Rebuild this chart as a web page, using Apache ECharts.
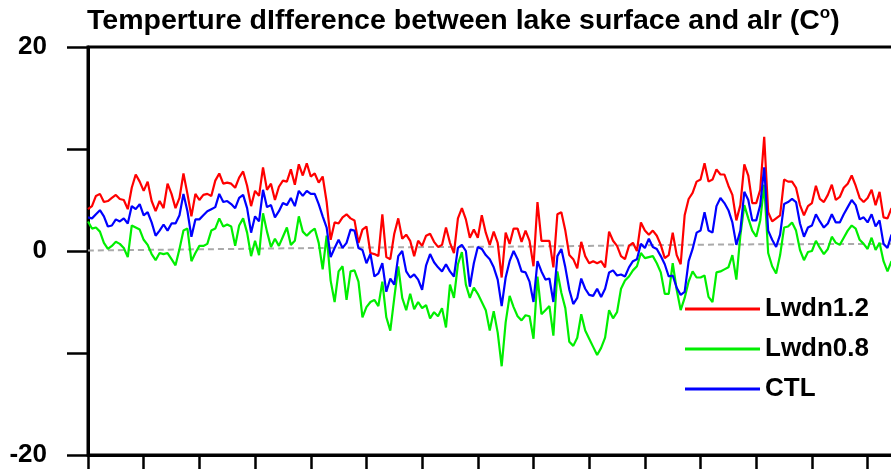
<!DOCTYPE html>
<html>
<head>
<meta charset="utf-8">
<script src="https://cdn.jsdelivr.net/npm/echarts@6/dist/echarts.min.js"></script>
<style>
  html, body { margin: 0; padding: 0; overflow: hidden; background: #fff; }
  #chart { width: 1000px; height: 520px; }
</style>
</head>
<body>
<div id="chart"></div>
<script>
// daily samples, one tick every 14 samples
var lwdn12 = [4.1,4.4,5.4,5.6,4.8,4.9,5.2,5.5,5.1,5.0, 4.1,6.2,7.5,6.8,5.9,6.8,4.9,3.9,4.9,4.2,
  6.6,5.6,4.2,5.2,7.6,5.6,3.4,5.6,5.0,5.5, 5.6,5.4,6.9,7.6,6.6,6.7,6.6,6.2,7.2,7.8,
  6.4,4.4,5.9,5.4,8.2,6.0,6.6,5.0,6.3,6.9, 6.8,8.0,6.5,8.5,7.4,8.6,7.3,7.6,6.7,7.3,
  4.8,1.1,2.8,2.7,3.3,3.6,3.2,3.0,0.8,2.1, 2.4,-0.2,-0.3,-0.5,3.6,-0.6,-0.8,1.7,3.2,1.2,
  1.6,1.0,-0.5,1.0,0.5,1.5,1.7,0.9,0.4,0.6, 2.3,0.8,-0.2,3.2,4.2,3.1,1.3,2.1,1.3,3.5,
  1.8,0.6,1.9,0.8,-2.6,1.8,0.7,2.2,2.2,0.9, 2.0,1.0,-1.5,4.8,1.0,1.0,1.0,-1.6,3.6,3.8,
  2.0,-0.4,-0.8,-1.7,0.9,-0.5,-1.2,-1.0,-1.2,-1.0, -1.6,1.9,1.0,0.5,-0.5,-0.8,0.5,0.8,0,2.8,
  2.0,1.6,2.0,1.5,0.6,-0.7,-0.4,1.8,-0.4,-1.3, 3.5,5.1,5.7,6.8,7.0,8.6,6.8,7.0,8.0,7.5,
  7.5,6.4,5.5,3.0,4.5,8.5,7.4,4.7,4.7,6.0, 11.2,3.8,2.9,3.2,3.5,7.0,6.8,6.8,6.2,4.5,
  3.5,4.4,4.7,6.4,5.1,4.8,5.5,6.5,5.0,5.3, 6.2,6.6,7.4,6.4,5.2,4.8,5.2,6.0,4.5,5.8,
  3.3,3.2,4.2];

var lwdn08 = [2.9,2.2,2.3,1.9,0.8,0.2,0.5,0.9,0.7,0.3, -0.6,2.5,2.3,2.1,1.1,0.6,-0.3,-0.9,-0.2,-0.3,
  -0.2,-0.8,-1.4,0.2,2.0,2.2,-1.0,-0.2,0.5,0.5, 0.7,2.0,2.2,3.2,2.4,2.6,2.4,0.5,2.5,3.2,
  1.8,-0.5,1.0,-0.4,3.7,1.9,0.4,1.2,0.5,1.4, 2.3,0.6,1.0,3.4,1.9,1.5,1.9,2.2,0.8,-1.8,
  1.5,-2.9,-5.0,-2.0,-1.5,-4.8,-2.0,-1.9,-3.0,-6.5, -5.5,-5.0,-4.8,-5.4,-3.0,-6.5,-7.8,-4.6,-1.5,-4.6,
  -5.8,-4.2,-5.7,-5.0,-5.6,-5.3,-6.6,-6.0,-6.4,-5.6, -7.5,-3.3,-4.6,-1.3,-0.1,-3.3,-4.6,-3.6,-4.2,-5.0,
  -5.8,-7.8,-5.9,-8.0,-11.3,-7.0,-4.4,-5.5,-6.4,-6.8, -6.3,-6.4,-8.6,-2.5,-6.2,-5.8,-5.4,-8.3,-2.0,-4.1,
  -5.6,-8.9,-9.3,-8.5,-6.2,-7.8,-8.6,-9.4,-10.2,-9.5, -8.5,-5.8,-6.6,-6.0,-3.7,-2.9,-2.5,-1.9,-1.5,-0.2,
  -0.7,-0.6,-0.5,-1.2,-2.1,-4.2,-4.2,-1.2,-3.8,-5.8, -4.6,-3.0,-2.0,-2.6,-2.6,-2.4,-4.5,-5.0,-2.1,-2.0,
  -1.8,-1.6,-0.4,-2.8,1.5,4.5,3.2,2.0,1.4,3.0, 6.5,-0.2,-1.5,-2.2,-0.4,2.3,2.4,2.8,2.0,0.1,
  -0.9,-0.1,0.0,1.0,0.3,-0.3,0.2,1.4,0.8,0.6, 1.3,2.0,2.5,2.2,1.1,0.7,0.2,1.3,0.1,0.8,
  -1.0,-2.0,-1.0];

var ctl = [3.3,3.2,3.6,4.0,3.4,2.4,2.5,3.1,2.9,3.2, 2.7,4.4,4.1,4.6,3.5,3.8,2.8,1.5,2.0,2.6,
  2.0,2.7,2.7,3.5,5.6,3.9,1.4,3.1,3.1,3.5, 3.9,4.1,4.3,5.6,4.8,4.9,4.6,4.2,5.2,5.5,
  4.2,1.8,3.4,2.9,6.0,4.3,4.5,3.3,3.9,4.7, 4.5,5.2,4.4,5.9,5.4,5.9,5.6,5.6,4.6,3.4,
  2.3,-0.6,0.3,1.1,0.3,0.8,2.1,2.0,0.3,0.1, -1.2,-0.3,-2.5,-2.2,-1.2,-4.0,-2.7,-3.3,-0.5,0.0,
  -2.0,-2.6,-2.3,-2.8,-3.8,-1.4,-0.3,-1.1,-1.6,-2.0, -1.3,-2.0,-2.5,0.3,0.6,0.0,-3.5,-1.2,0.4,0.2,
  -0.4,-0.8,-1.6,-2.8,-5.4,-2.6,-1.0,0.0,-0.8,-2.0, -2.1,-3.0,-5.0,-1.0,-2.0,-2.8,-2.7,-5.0,-0.5,0.2,
  -1.6,-3.8,-5.2,-4.6,-2.7,-3.7,-4.3,-4.4,-3.7,-4.5, -3.7,-2.1,-1.9,-2.4,-2.3,-2.5,-1.6,-1.0,-0.8,0.7,
  0.3,1.2,0.4,0.2,-0.5,-1.3,-2.5,-2.4,-3.6,-4.3, -4.0,-1.0,0.2,1.8,2.0,3.8,2.0,1.8,4.4,5.2,
  4.7,4.0,2.8,0.6,2.0,5.8,5.0,3.0,3.0,4.5, 8.2,2.0,1.1,0.4,1.6,4.6,4.8,5.1,4.8,2.7,
  1.4,2.3,2.5,3.6,2.9,2.3,2.7,3.6,2.8,2.8, 3.6,4.3,5.0,4.5,3.1,3.3,2.8,3.6,2.4,3.0,
  0.7,0.3,1.6];

// grey dashed reference curve
var refDay = [0, 36, 73, 113, 155, 202];
var refVal = [0.05, 0.2, 0.35, 0.45, 0.62, 0.7];

var seriesNames = ['Lwdn1.2', 'Lwdn0.8', 'CTL'];
var yTicks = [-20, 0, 20];

var font = 'Liberation Sans, Arial, Helvetica, sans-serif';
var chart = echarts.init(document.getElementById('chart'));

function pairs(arr) {
  return arr.map(function (v, i) { return [i, v]; });
}

chart.setOption({
  animation: false,
  title: {
    text: 'Temperture dIfference between lake surface and aIr (C{sup|o})',
    left: 87,
    top: 5,
    padding: 0,
    textStyle: {
      fontFamily: font,
      fontWeight: 'bold',
      fontSize: 28.5,
      color: '#000',
      rich: {
        sup: { fontFamily: font, fontWeight: 'bold', fontSize: 17, color: '#000', padding: [0, 0, 15, 0] }
      }
    }
  },
  legend: {
    data: seriesNames,
    orient: 'vertical',
    left: 685,
    top: 294,
    padding: 0,
    itemWidth: 75,
    itemHeight: 3,
    itemGap: 10,
    icon: 'rect',
    selectedMode: false,
    textStyle: { fontFamily: font, fontWeight: 'bold', fontSize: 26, color: '#000', lineHeight: 30 }
  },
  grid: {
    left: 88, top: 47, width: 891, height: 408,
    show: true, borderColor: '#000', borderWidth: 3
  },
  xAxis: {
    type: 'value',
    min: 0, max: 224, interval: 14,
    axisLine: { onZero: false, lineStyle: { color: '#000', width: 3 } },
    axisTick: { length: 20, lineStyle: { color: '#000', width: 2.5 } },
    axisLabel: { show: false },
    splitLine: { show: false }
  },
  yAxis: {
    type: 'value',
    min: -20, max: 20, interval: 10,
    axisLine: { show: true, lineStyle: { color: '#000', width: 3 } },
    axisTick: { show: true, length: 21, lineStyle: { color: '#000', width: 2.5 } },
    axisLabel: {
      margin: 41,
      fontFamily: font, fontWeight: 'bold', fontSize: 26, color: '#000',
      formatter: function (v) { return yTicks.indexOf(v) >= 0 ? String(v) : ''; }
    },
    splitLine: { show: false }
  },
  series: [
    {
      type: 'line', silent: true, smooth: true, symbol: 'none',
      data: refDay.map(function (d, k) { return [d, refVal[k]]; }),
      lineStyle: { color: '#aaaaaa', width: 2, type: [6, 4] }
    },
    {
      name: seriesNames[0], type: 'line', symbol: 'none', data: pairs(lwdn12),
      itemStyle: { color: '#ff0000' }, lineStyle: { color: '#ff0000', width: 2.2 }
    },
    {
      name: seriesNames[1], type: 'line', symbol: 'none', data: pairs(lwdn08),
      itemStyle: { color: '#00ee00' }, lineStyle: { color: '#00ee00', width: 2.2 }
    },
    {
      name: seriesNames[2], type: 'line', symbol: 'none', data: pairs(ctl),
      itemStyle: { color: '#0000ff' }, lineStyle: { color: '#0000ff', width: 2.2 }
    }
  ]
});
</script>
</body>
</html>
